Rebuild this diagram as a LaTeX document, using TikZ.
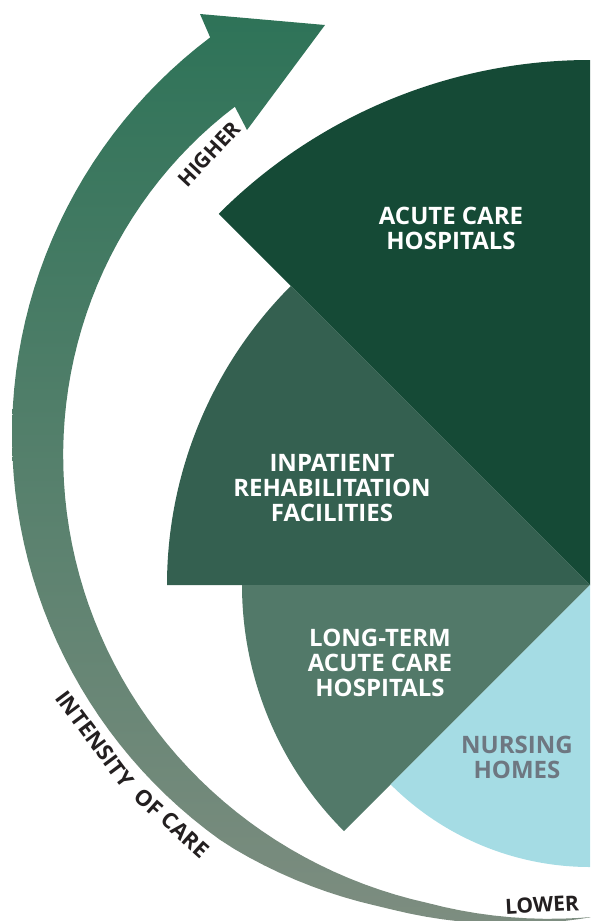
\documentclass[tikz,border=0pt]{standalone}
\usepackage{fontspec}
\setmainfont{Open Sans}
\usetikzlibrary{positioning}
\definecolor{acutegreen}{RGB}{21,74,54}
\definecolor{rehabgreen}{RGB}{52,96,80}
\definecolor{ltachgreen}{RGB}{82,121,105}
\definecolor{nursingblue}{RGB}{165,220,228}
\definecolor{nursinggray}{RGB}{110,119,129}
\definecolor{arrowtop}{RGB}{46,115,88}
\definecolor{arrowbottom}{RGB}{125,141,128}
\definecolor{labelblack}{RGB}{35,31,32}
\begin{document}
\begin{tikzpicture}[x=1pt, y=1pt,
	declare function={ro(\t)=498-9*min(max((\t-235)/20,0),1); ri(\t)=428+0.36*(\t-129)+0.34*max(\t-260,0);},
	sector/.style = {align=center, text=white, font=\fontsize{24}{25}\selectfont\bfseries},
	scalelabel/.style = {text=labelblack, font=\fontsize{21}{21}\selectfont\bfseries}]
	\useasboundingbox (0,0) rectangle (590,-921);
	\coordinate (c) at (590,-585);
	\fill[acutegreen] (c) -- ++(90:525pt) arc[start angle=90, end angle=135, radius=525pt] -- cycle;
	\fill[rehabgreen] (c) -- ++(135:423pt) arc[start angle=135, end angle=180, radius=423pt] -- cycle;
	\fill[ltachgreen] (c) -- ++(180:348pt) arc[start angle=180, end angle=225, radius=348pt] -- cycle;
	\fill[nursingblue] (c) -- ++(225:282pt) arc[start angle=225, end angle=270, radius=282pt] -- cycle;
	\shade[top color=arrowtop, bottom color=arrowbottom] (210,-37) -- (200,-14) -- (325,-25) -- (247,-130) -- (235,-107)
		-- plot[domain=130:280, samples=76, variable=\t] ({510+ri(\t)*cos(\t)}, {-435+ri(\t)*sin(\t)})
		-- plot[domain=280:127, samples=78, variable=\t] ({510+ro(\t)*cos(\t)}, {-435+ro(\t)*sin(\t)})
		-- cycle;
	\node[sector] (acute) at (451,-228) {ACUTE CARE\\HOSPITALS};
	\node[sector] (rehab) at (332,-488) {INPATIENT\\REHABILITATION\\FACILITIES};
	\node[sector] (ltach) at (380,-663) {LONG-TERM\\ACUTE CARE\\HOSPITALS};
	\node[sector, text=nursinggray] (nursing) at (517,-757) {NURSING\\HOMES};
	\node[scalelabel, rotate=47] (higher) at (209,-154) {HIGHER};
	\node[scalelabel, font=\fontsize{22}{22}\selectfont\bfseries, rotate=-53.3] (intensity) at (95,-739) {INTENSITY};
	\node[scalelabel, font=\fontsize{22}{22}\selectfont\bfseries, rotate=-41.8] (ofcare) at (172,-823) {OF CARE};
	\node[scalelabel, rotate=3] (lower) at (542,-905) {LOWER};
\end{tikzpicture}
\end{document}
